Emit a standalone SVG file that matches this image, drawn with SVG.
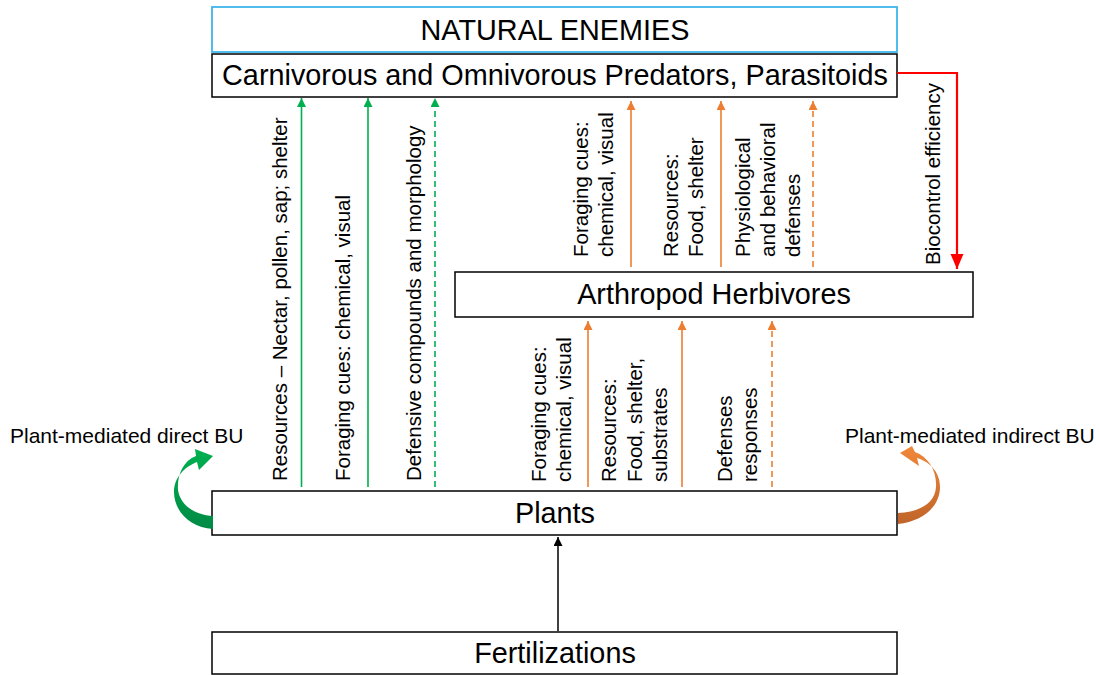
<svg xmlns="http://www.w3.org/2000/svg" width="1100" height="675" viewBox="0 0 1100 675">
<style>
text{font-family:"Liberation Sans",Arial,sans-serif;fill:#000}
.box{fill:#fff;stroke:#000;stroke-width:1.5}
.big{font-size:28.8px;text-anchor:middle}
.lbl{font-size:20.5px}
.g{stroke:#00B050;stroke-width:1.6;fill:none}
.o{stroke:#ED7D31;stroke-width:1.6;fill:none}
.d{stroke-dasharray:6,4}
</style>
<defs>
<marker id="mg" markerUnits="userSpaceOnUse" markerWidth="9" markerHeight="10" refX="9" refY="4.5" orient="auto"><path d="M0,0 L9,4.5 L0,9 Z" fill="#00B050"/></marker>
<marker id="mo" markerUnits="userSpaceOnUse" markerWidth="9" markerHeight="10" refX="9" refY="4.5" orient="auto"><path d="M0,0 L9,4.5 L0,9 Z" fill="#ED7D31"/></marker>
<marker id="mk" markerUnits="userSpaceOnUse" markerWidth="9" markerHeight="10" refX="9" refY="4.5" orient="auto"><path d="M0,0 L9,4.5 L0,9 Z" fill="#000"/></marker>
<marker id="mr" markerUnits="userSpaceOnUse" markerWidth="15" markerHeight="14" refX="15" refY="6.5" orient="auto"><path d="M0,0 L15,6.5 L0,13 Z" fill="#FF0000"/></marker>
<linearGradient id="gg" x1="0" y1="0" x2="0" y2="1"><stop offset="0" stop-color="#00B050"/><stop offset="1" stop-color="#008A45"/></linearGradient>
<linearGradient id="og" x1="0" y1="0" x2="0" y2="1"><stop offset="0" stop-color="#F0883A"/><stop offset="1" stop-color="#C0642A"/></linearGradient>
</defs>

<g id="natural-enemies">
<rect x="212" y="7" width="685" height="45" fill="#fff" stroke="#3DB5EA" stroke-width="1.8"/>
<text class="big" x="555" y="40">NATURAL ENEMIES</text>
</g>
<g id="predators">
<rect class="box" x="212" y="54" width="685" height="43"/>
<text class="big" x="555" y="85">Carnivorous and Omnivorous Predators, Parasitoids</text>
</g>
<g id="herbivores">
<rect class="box" x="455" y="272" width="518" height="45"/>
<text class="big" x="714" y="304">Arthropod Herbivores</text>
</g>
<g id="plants">
<rect class="box" x="212" y="491" width="685" height="44"/>
<text class="big" x="555" y="523">Plants</text>
</g>
<g id="fertilizations">
<rect class="box" x="212" y="632" width="685" height="42"/>
<text class="big" x="555" y="663">Fertilizations</text>
</g>

<g id="connectors">
<line class="g" x1="301.5" y1="487" x2="301.5" y2="98" marker-end="url(#mg)"/>
<line class="g" x1="368" y1="487" x2="368" y2="98" marker-end="url(#mg)"/>
<line class="g d" x1="435" y1="487" x2="435" y2="98" marker-end="url(#mg)"/>
<line class="o" x1="631" y1="267" x2="631" y2="101" marker-end="url(#mo)"/>
<line class="o" x1="721" y1="267" x2="721" y2="101" marker-end="url(#mo)"/>
<line class="o d" x1="813" y1="267" x2="813" y2="101" marker-end="url(#mo)"/>
<line class="o" x1="588" y1="487" x2="588" y2="321" marker-end="url(#mo)"/>
<line class="o" x1="682" y1="487" x2="682" y2="321" marker-end="url(#mo)"/>
<line class="o d" x1="772" y1="487" x2="772" y2="321" marker-end="url(#mo)"/>
<polyline points="897,73 957,73 957,269" fill="none" stroke="#FF0000" stroke-width="2.2" marker-end="url(#mr)"/>
<line x1="558" y1="631" x2="558" y2="537" stroke="#000" stroke-width="1.5" marker-end="url(#mk)"/>
<path d="M213,529 C190,528 174,511 174,492 C174,478 184,467 197,462 L199,470 L213,456 L195,449 L196,456 C183,461 177,475 178,490 C180,505 195,515 213,516 Z" fill="url(#gg)"/>
<path d="M898,524 C925,521 940,505 940,487 C940,472 930,462 917,458 L919,466 L900,453 L912,446 L915,452 C928,457 937,470 936,487 C935,503 920,512 898,513 Z" fill="url(#og)"/>
</g>

<g id="labels">
<text class="lbl" transform="translate(287,481) rotate(-90)">Resources – Nectar, pollen, sap; shelter</text>
<text class="lbl" transform="translate(350,481) rotate(-90)">Foraging cues: chemical, visual</text>
<text class="lbl" transform="translate(421,481) rotate(-90)">Defensive compounds and morphology</text>
<text class="lbl" transform="translate(588,257) rotate(-90)">Foraging cues:</text>
<text class="lbl" transform="translate(613,257) rotate(-90)">chemical, visual</text>
<text class="lbl" transform="translate(678,257) rotate(-90)">Resources:</text>
<text class="lbl" transform="translate(703,257) rotate(-90)">Food, shelter</text>
<text class="lbl" transform="translate(750,257) rotate(-90)">Physiological</text>
<text class="lbl" transform="translate(775,257) rotate(-90)">and behavioral</text>
<text class="lbl" transform="translate(800,257) rotate(-90)">defenses</text>
<text class="lbl" transform="translate(940,265) rotate(-90)">Biocontrol efficiency</text>
<text class="lbl" transform="translate(546,482) rotate(-90)">Foraging cues:</text>
<text class="lbl" transform="translate(571,482) rotate(-90)">chemical, visual</text>
<text class="lbl" transform="translate(616,482) rotate(-90)">Resources:</text>
<text class="lbl" transform="translate(642,482) rotate(-90)">Food, shelter,</text>
<text class="lbl" transform="translate(667,482) rotate(-90)">substrates</text>
<text class="lbl" transform="translate(732,482) rotate(-90)">Defenses</text>
<text class="lbl" transform="translate(757,482) rotate(-90)">responses</text>
<text class="lbl" x="10" y="443" style="font-size:21px">Plant-mediated direct BU</text>
<text class="lbl" x="845" y="443" style="font-size:21px">Plant-mediated indirect BU</text>
</g>
</svg>
